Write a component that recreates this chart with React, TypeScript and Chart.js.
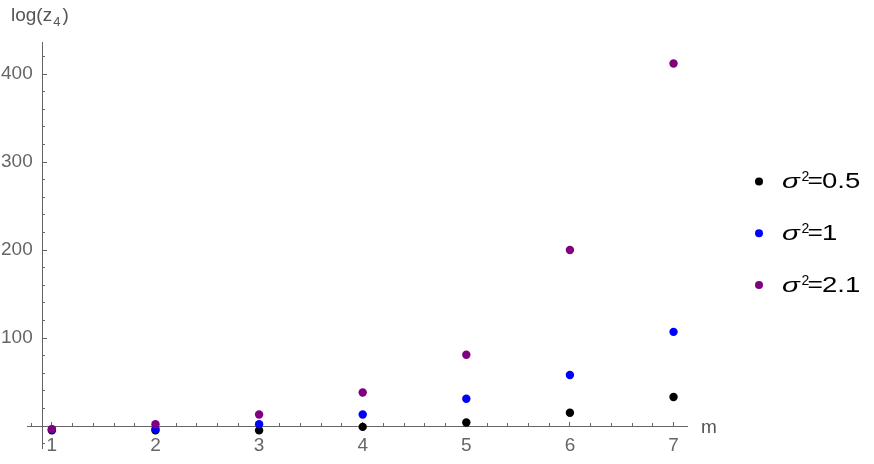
import React, { useEffect, useRef } from 'react';
import { Chart, registerables } from 'chart.js';

Chart.register(...registerables);

const mValues = [1, 2, 3, 4, 5, 6, 7];
const sigma05 = [-5, -5, -5, -1, 4, 15, 33];
const sigma1 = [-4, -3.5, 2, 13, 31, 58, 107];
const sigma21 = [-3.5, 2, 13, 38, 81, 200, 412];
const seriesLabels = ['0.5', '1', '2.1'];
const seriesColors = ['#000000', '#0000ff', '#800080'];

const X_MIN = 0.76;
const X_MAX = 7.13;
const Y_MIN = -25;
const Y_MAX = 436.4;
const Y_AXIS_AT = 0.905;

const FONT = '"Liberation Sans", Arial, sans-serif';
const AXIS_COLOR = '#666666';
const LABEL_COLOR = '#666666';

const toPoints = (ys: number[]) => mValues.map((m, i) => ({ x: m, y: ys[i] }));

const zeroWidth = (s: any) => { s.width = 0; };
const zeroHeight = (s: any) => { s.height = 0; };

const decorations = {
  id: 'decorations',
  afterDraw(chart: any) {
    const ctx = chart.ctx as CanvasRenderingContext2D;
    ctx.save();
    ctx.textAlign = 'left';
    ctx.textBaseline = 'alphabetic';
    // y axis title log(z4)
    ctx.fillStyle = '#555555';
    ctx.font = `19px ${FONT}`;
    ctx.fillText('log(z', 11, 21);
    const w = ctx.measureText('log(z').width;
    ctx.font = `13px ${FONT}`;
    ctx.fillText('4', 11 + w + 1, 26);
    const w4 = ctx.measureText('4').width;
    ctx.font = `19px ${FONT}`;
    ctx.fillText(')', 11 + w + w4 + 3, 21);
    // x axis title m
    ctx.font = `19px ${FONT}`;
    ctx.fillText('m', 701, 433);
    // legend
    for (let i = 0; i < seriesLabels.length; i++) {
      const base = 188 + i * 51.8;
      ctx.fillStyle = seriesColors[i];
      ctx.beginPath();
      ctx.arc(759, base - 6.5, 4, 0, Math.PI * 2);
      ctx.fill();
      ctx.fillStyle = '#000000';
      ctx.save();
      ctx.translate(782, base);
      ctx.scale(1.4, 1);
      ctx.font = `italic 21px ${FONT}`;
      ctx.fillText('σ', 0, 0);
      ctx.restore();
      ctx.font = `14px ${FONT}`;
      ctx.fillText('2', 801.5, base - 7);
      ctx.save();
      ctx.translate(807.5, base);
      ctx.scale(1.2, 1);
      ctx.font = `22px ${FONT}`;
      ctx.fillText('=', 0, 0);
      ctx.restore();
      ctx.save();
      ctx.translate(822, base);
      ctx.scale(1.25, 1);
      ctx.font = `22px ${FONT}`;
      ctx.fillText(seriesLabels[i], 0, 0);
      ctx.restore();
    }
    ctx.restore();
  },
};

export default function App() {
  const canvasRef = useRef<HTMLCanvasElement | null>(null);

  useEffect(() => {
    document.body.style.margin = '0';
    const canvas = canvasRef.current;
    if (!canvas) return;
    const chart = new Chart(canvas, {
      type: 'scatter',
      data: {
        datasets: [
          { label: 'σ²=0.5', data: toPoints(sigma05), backgroundColor: seriesColors[0], borderColor: seriesColors[0], pointRadius: 4.2, pointBorderWidth: 0, order: 2 },
          { label: 'σ²=1', data: toPoints(sigma1), backgroundColor: seriesColors[1], borderColor: seriesColors[1], pointRadius: 4.2, pointBorderWidth: 0, order: 1 },
          { label: 'σ²=2.1', data: toPoints(sigma21), backgroundColor: seriesColors[2], borderColor: seriesColors[2], pointRadius: 4.2, pointBorderWidth: 0, order: 0 },
        ],
      },
      options: {
        animation: false,
        responsive: false,
        maintainAspectRatio: false,
        layout: { padding: { left: 0, right: 187, top: 42, bottom: 16 } },
        plugins: { legend: { display: false }, tooltip: { enabled: false } },
        scales: {
          x: {
            type: 'linear',
            min: X_MIN,
            max: X_MAX,
            position: { y: 0 } as any,
            afterFit: zeroHeight,
            border: { display: true, color: AXIS_COLOR, width: 1 },
            grid: { drawOnChartArea: false, drawTicks: true, tickLength: -5, tickColor: AXIS_COLOR },
            ticks: { stepSize: 1, includeBounds: false, autoSkip: false, maxRotation: 0, padding: 13, color: LABEL_COLOR, font: { family: FONT, size: 19 } },
          },
          xMinor: {
            type: 'linear',
            axis: 'x',
            min: X_MIN,
            max: X_MAX,
            position: { y: 0 } as any,
            afterFit: zeroHeight,
            border: { display: false },
            grid: { drawOnChartArea: false, drawTicks: true, tickLength: -3, tickColor: AXIS_COLOR },
            ticks: { stepSize: 0.2, includeBounds: false, autoSkip: false, display: false },
          },
          y: {
            type: 'linear',
            min: Y_MIN,
            max: Y_MAX,
            position: { x: Y_AXIS_AT } as any,
            afterFit: zeroWidth,
            border: { display: true, color: AXIS_COLOR, width: 1 },
            grid: { drawOnChartArea: false, drawTicks: true, tickLength: -5, tickColor: AXIS_COLOR },
            ticks: { stepSize: 100, includeBounds: false, autoSkip: false, display: false },
          },
          yMinor: {
            type: 'linear',
            axis: 'y',
            min: Y_MIN,
            max: Y_MAX,
            position: { x: Y_AXIS_AT } as any,
            afterFit: zeroWidth,
            border: { display: false },
            grid: { drawOnChartArea: false, drawTicks: true, tickLength: -3, tickColor: AXIS_COLOR },
            ticks: { stepSize: 20, includeBounds: false, autoSkip: false, display: false },
          },
          yLabels: {
            type: 'linear',
            axis: 'y',
            min: Y_MIN,
            max: Y_MAX,
            position: 'left',
            afterFit: (s: any) => { s.width = 27; },
            border: { display: false },
            grid: { display: false, drawTicks: false },
            ticks: {
              stepSize: 100,
              includeBounds: false,
              autoSkip: false,
              mirror: true,
              crossAlign: 'far',
              padding: -26,
              color: LABEL_COLOR,
              font: { family: FONT, size: 19 },
              callback: (v: any) => (Number(v) === 0 ? '' : String(v)),
            },
          },
        },
      },
      plugins: [decorations],
    });
    return () => chart.destroy();
  }, []);

  return (
    <div style={{ width: 874, height: 464, position: 'relative' }}>
      <canvas ref={canvasRef} width={874} height={464} style={{ display: 'block' }} />
    </div>
  );
}
